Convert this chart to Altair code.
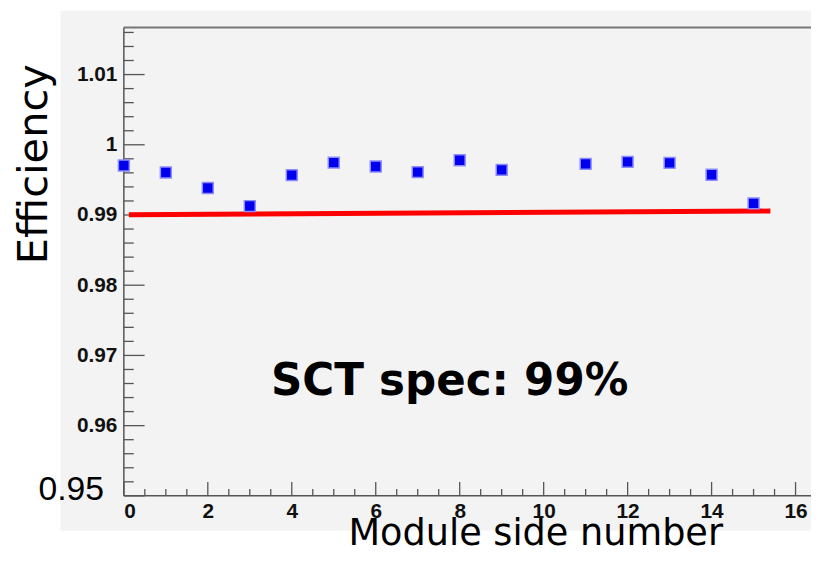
import altair as alt
import pandas as pd

# ---- data ----
module_side = [0, 1, 2, 3, 4, 5, 6, 7, 8, 9, 11, 12, 13, 14, 15]
efficiency = [0.99704, 0.99606, 0.99385, 0.99127, 0.99568, 0.99746, 0.99690,
              0.99610, 0.99779, 0.99643, 0.99728, 0.99756, 0.99742, 0.99573, 0.99165]

spec_x = [0.12, 15.4]
spec_y = [0.99004, 0.99056]

y_major = [0.95, 0.96, 0.97, 0.98, 0.99, 1.00, 1.01]
y_minor = [round(0.95 + 0.002 * i, 3) for i in range(34) if i % 5 != 0]
x_major = [0, 2, 4, 6, 8, 10, 12, 14, 16]
x_minor = [0.5 * i for i in range(33) if i % 4 != 0]

W, H = 694, 473
X_DOMAIN = [0, W / 42.4]
Y_DOMAIN = [0.95, 1.0167]

xs = alt.Scale(domain=X_DOMAIN, nice=False, zero=False)
ys = alt.Scale(domain=Y_DOMAIN, nice=False, zero=False)

pts = pd.DataFrame({"x": module_side, "y": efficiency})
line = pd.DataFrame({"x": spec_x, "y": spec_y})
ymaj = pd.DataFrame({"y": y_major})
ymin = pd.DataFrame({"y": y_minor})
xmaj = pd.DataFrame({"x": x_major})
xmin = pd.DataFrame({"x": x_minor})
one = pd.DataFrame({"t": ["x"]})

bg = alt.Chart(one).mark_rect(color="#f3f3f3").encode(
    x=alt.value(-64), x2=alt.value(W + 20), y=alt.value(-17), y2=alt.value(508)
)

frame_top = alt.Chart(one).mark_rule(color="#777777", strokeWidth=2).encode(
    x=alt.value(0), x2=alt.value(W + 20), y=alt.value(0)
)
frame_left = alt.Chart(one).mark_rule(color="#555555", strokeWidth=1.5).encode(
    x=alt.value(0), y=alt.value(0), y2=alt.value(H)
)
frame_bottom = alt.Chart(one).mark_rule(color="#555555", strokeWidth=1.5).encode(
    x=alt.value(0), x2=alt.value(W + 20), y=alt.value(H)
)

base_axes = alt.Chart(pts).mark_point(opacity=0).encode(
    x=alt.X("x:Q", scale=xs, axis=alt.Axis(
        values=x_major, title=None, domain=False, ticks=False, grid=False,
        labelFont="Liberation Sans", labelFontWeight="bold", labelFontSize=21,
        labelColor="#111111", labelPadding=5, format="d", zindex=2)),
    y=alt.Y("y:Q", scale=ys, axis=alt.Axis(
        values=y_major, title=None, domain=False, ticks=False, grid=False,
        labelFont="Liberation Sans", labelFontWeight="bold", labelFontSize=21,
        labelColor="#111111", labelPadding=7, format="~g", zindex=2,
        labelExpr="datum.value < 0.951 ? '' : datum.label")),
)

ytick_major = alt.Chart(ymaj).mark_rule(color="#555555", strokeWidth=1.3).encode(
    y=alt.Y("y:Q", scale=ys), x=alt.value(0), x2=alt.value(21))
ytick_minor = alt.Chart(ymin).mark_rule(color="#555555", strokeWidth=1.3).encode(
    y=alt.Y("y:Q", scale=ys), x=alt.value(0), x2=alt.value(10))
xtick_major = alt.Chart(xmaj).mark_rule(color="#555555", strokeWidth=1.3).encode(
    x=alt.X("x:Q", scale=xs), y=alt.value(H), y2=alt.value(H - 14))
xtick_minor = alt.Chart(xmin).mark_rule(color="#555555", strokeWidth=1.3).encode(
    x=alt.X("x:Q", scale=xs), y=alt.value(H), y2=alt.value(H - 7))

spec_line = alt.Chart(line).mark_line(color="#ff0000", strokeWidth=5).encode(
    x=alt.X("x:Q", scale=xs), y=alt.Y("y:Q", scale=ys))

points = alt.Chart(pts).mark_square(
    size=121, color="#0000ee", opacity=1, stroke="#8c8cff", strokeWidth=1.5
).encode(x=alt.X("x:Q", scale=xs), y=alt.Y("y:Q", scale=ys))

label_095 = alt.Chart(pd.DataFrame({"y": [0.95], "t": ["0.95"]})).mark_text(
    font="Liberation Sans", fontSize=34, align="right", baseline="alphabetic",
    color="#000000", dy=4
).encode(y=alt.Y("y:Q", scale=ys), x=alt.value(-20), text="t:N")

eff_title = alt.Chart(pd.DataFrame({"t": ["Efficiency"]})).mark_text(
    font="DejaVu Sans", fontSize=42, angle=270, align="center", baseline="middle",
    color="#000000"
).encode(x=alt.value(-91), y=alt.value(138), text="t:N")

x_title = alt.Chart(pd.DataFrame({"t": ["Module side number"]})).mark_text(
    font="DejaVu Sans", fontSize=37, align="center", baseline="alphabetic",
    color="#000000"
).encode(x=alt.value(416), y=alt.value(523), text="t:N")

spec_text = alt.Chart(pd.DataFrame({"t": ["SCT spec: 99%"]})).mark_text(
    font="DejaVu Sans", fontSize=44, fontWeight="bold", align="center",
    baseline="middle", color="#000000"
).encode(x=alt.value(329), y=alt.value(358), text="t:N")

chart = alt.layer(
    bg, ytick_major, ytick_minor, xtick_major, xtick_minor,
    frame_top, frame_left, frame_bottom, spec_line, points, base_axes,
    label_095, eff_title, x_title, spec_text
).properties(
    width=W, height=H,
    autosize=alt.AutoSizeParams(type="none"),
    padding={"left": 117, "top": 17, "right": 0, "bottom": 55},
).configure_view(stroke=None).configure(background="white")

chart.save("out.html", embed_options={"renderer": "svg", "actions": False})
